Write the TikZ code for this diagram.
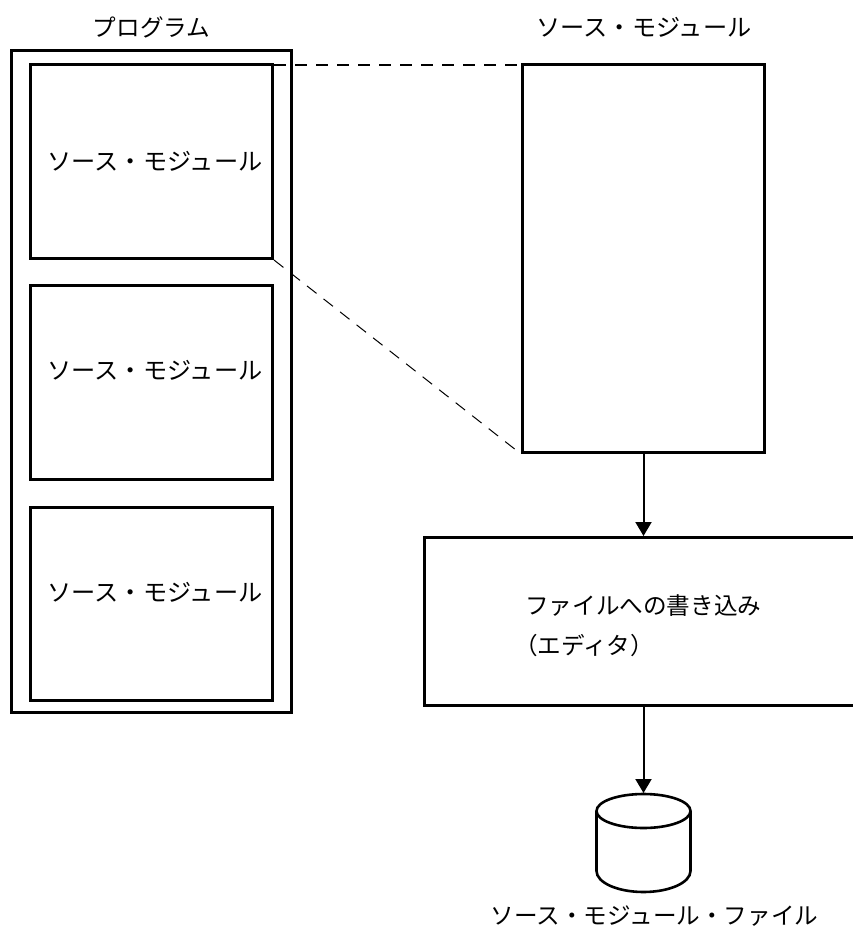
\documentclass[tikz,border=0pt]{standalone}
\usepackage{fontspec}
\setmainfont{Noto Sans CJK JP}
\usetikzlibrary{arrows.meta}
\tikzset{
  x=1pt,y=-1pt,
  box/.style={draw=black,line width=3pt,fill=white,rectangle,inner sep=0pt,minimum width=#1},
  box/.default=242pt,
  lbl/.style={inner sep=0pt,font=\fontsize{24.2}{29}\selectfont,text=black},
  lblb/.style={inner sep=0pt,font=\fontsize{23.6}{28}\selectfont,text=black},
  flow/.style={draw=black,line width=2pt,-{Triangle[length=14pt,width=16pt]}},
  dash1/.style={draw=black,line width=2pt,dash pattern=on 12pt off 9pt},
  dash2/.style={draw=black,line width=1pt,dash pattern=on 12pt off 9pt},
}
\begin{document}
\begin{tikzpicture}
\useasboundingbox (0,0) rectangle (853,927);
\node[box=280pt,minimum height=662pt,anchor=north west] (outer) at (10,49) {};
\node[box,minimum height=194pt,anchor=north west] (m1) at (29,63) {};
\node[box,minimum height=194pt,anchor=north west] (m2) at (29,284) {};
\node[box,minimum height=193pt,anchor=north west] (m3) at (29,506) {};
\node[box,minimum height=388pt,anchor=north west] (src) at (521,63) {};
\node[box=440pt,minimum height=168pt,anchor=north west] (ed) at (423,536) {};
\node[lblb] (tp) at (151.5,27) {プログラム};
\node[lbl] (ts) at (644,27) {ソース・モジュール};
\node[lbl] at (155,161) {ソース・モジュール};
\node[lbl] at (155,370) {ソース・モジュール};
\node[lbl] at (155,592) {ソース・モジュール};
\node[lblb,anchor=west] at (525,606) {ファイルへの書き込み};
\node[lblb,anchor=west] at (514,646) {（エディタ）};
\node[lblb] (tf) at (654.5,916) {ソース・モジュール・ファイル};
\coordinate (c) at (643.5,793);
\draw[line width=2.6pt,fill=white] (596.5,811) arc[start angle=180,end angle=0,x radius=47,y radius=-17]
  -- (690.5,871) arc[start angle=0,end angle=180,x radius=47,y radius=21] -- cycle;
\draw[line width=2.6pt] (596.5,811) arc[start angle=180,end angle=360,x radius=47,y radius=-17];
\draw[dash1] ([yshift=-1.5pt]m1.north east) -- ([yshift=-1.5pt]src.north west);
\draw[dash2] (m1.south east) -- (src.south west);
\draw[flow] (src.south -| c) -- (ed.north -| c);
\draw[flow] (ed.south -| c) -- (c);
\end{tikzpicture}
\end{document}
